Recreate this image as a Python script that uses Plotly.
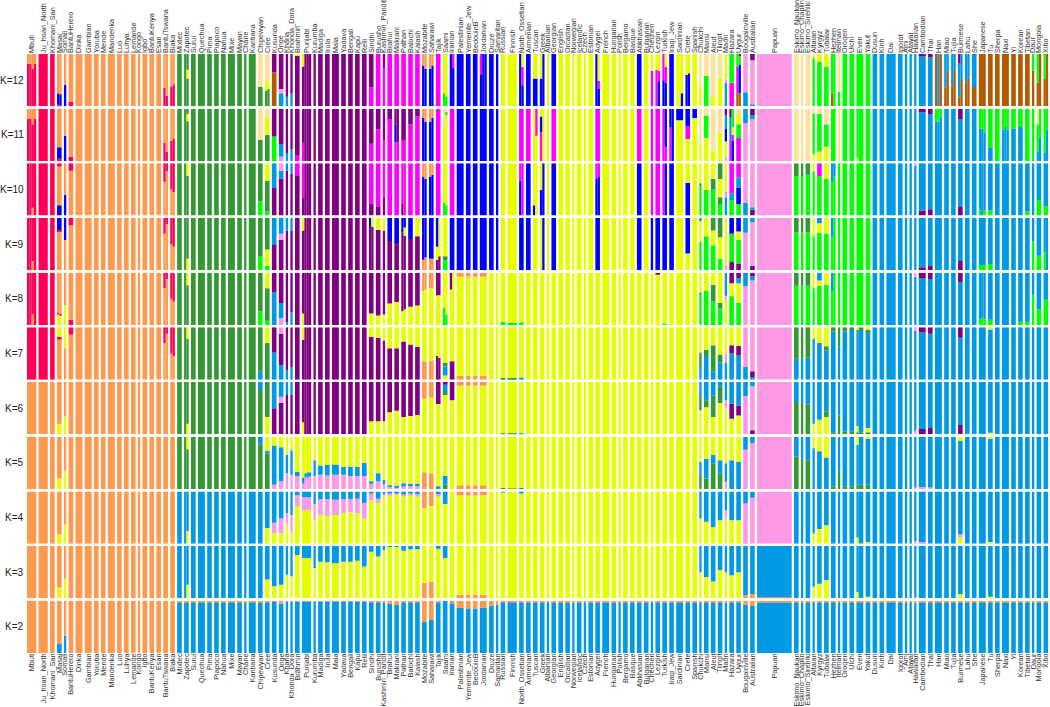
import plotly.graph_objects as go
from plotly.subplots import make_subplots

pops = ["Mbuti", "Ju_hoan_North", "Khomani_San", "Masai", "Somali", "BantuHerero", "Dinka", "Gambian", "Yoruba", "Mende",
        "Mandenka", "Luo", "Luhya", "Lemande", "Kongo", "Igbo", "BantuKenya", "Esan", "BantuTswana", "Biaka",
        "Mixtec", "Zapotec", "Surui", "Quechua", "Pima", "Piapoco", "Nahua", "Mixe", "Mayan", "Chane", "Karitiana",
        "Chipewyan", "Cree", "Kusunda", "Onge", "Kharia", "Khonda_Dora", "Brahmin", "Punjabi", "Kurumba", "Madiga",
        "Irula", "Mala", "Yadava", "Bengali", "Kapu", "Relli", "Sindhi", "Burusho", "Kashmiri_Pandit", "Brahui",
        "Makrani", "Pathan", "Balochi", "Kalash", "Mozabite", "Saharawi", "Tajik", "Saami", "Iranian", "Palestinian",
        "Yemenite_Jew", "BedouinB", "Jordanian", "Druze", "Samaritan", "Russian", "Finnish", "North_Ossetian",
        "Armenian", "Tuscan", "Greek", "Albanian", "Georgian", "English", "Orcadian", "Norwegian", "Icelandic",
        "Czech", "Estonian", "Adygei", "French", "Hungarian", "Polish", "Bergamo", "Basque", "Abkhasian", "Bulgarian",
        "Chechen", "Lezgin", "Turkish", "Iraqi_Jew", "Sardinian", "Crete", "Spanish", "Chukchi", "Mansi", "Aleut",
        "Tlingit", "Maori", "Hazara", "Uygur", "Bougainville", "Australian", "Papuan", "Eskimo_Naukan",
        "Eskimo_Chaplin", "Eskimo_Sireniki", "Altaian", "Kyrgyz", "Tubalar", "Hezhen", "Itelman", "Oroqen", "Ulchi",
        "Even", "Yakut", "Dusun", "Kinh", "Dai", "Igorot", "Ami", "Atayal", "Hawaiian", "Cambodian", "Thai", "Han",
        "Miao", "Tujia", "Burmese", "Lahu", "She", "Japanese", "Tu", "Sherpa", "Naxi", "Yi", "Korean", "Tibetan",
        "Daur", "Mongola", "Xibo"]

# samples per population
samples = [4, 4, 2, 2, 1, 2, 3, 3, 2, 2,
           3, 2, 2, 2, 1, 2, 2, 2, 2, 2,
           2, 2, 2, 3, 2, 2, 2, 3, 2, 1, 3,
           2, 2, 2, 2, 1, 1, 2, 4, 1, 2,
           2, 3, 2, 2, 2, 2, 2, 2, 1, 2,
           2, 2, 2, 2, 2, 2, 2, 2, 2, 3,
           2, 2, 3, 2, 1, 2, 4, 2,
           2, 2, 2, 1, 2, 2, 2, 1, 2,
           1, 2, 2, 3, 2, 1, 2, 2, 2, 2,
           1, 2, 2, 2, 3, 2, 2, 1, 2, 2,
           2, 1, 2, 2, 2, 2, 15, 2,
           1, 2, 1, 2, 2, 2, 1, 2, 2,
           3, 2, 2, 2, 4, 2, 1, 1, 1, 3, 2, 3,
           2, 2, 2, 2, 2, 3, 2, 2, 3, 2, 2, 2,
           1, 2, 2]

# composition strings: cluster letter + percent, bottom to top, "|" splits a population into sample columns
k2_rows = [("Mbuti", "Biaka", "O100"), ("Mixtec", "Xibo", "L98 O2"), ("Masai", "L18 O82"), ("Somali", "L33 O67"),
           ("Kusunda", "Relli", "L99 O1"), ("Onge", "L94 O6"), ("Brahui", "L94 O6"), ("Makrani", "L92 O8"),
           ("Mozabite", "L60 O40"), ("Saharawi", "L63 O37"), ("Tajik", "L97 O3"), ("Saami", "L100"),
           ("Iranian", "L95 O5"), ("Palestinian", "L86 O14"), ("Yemenite_Jew", "L85 O15"), ("BedouinB", "L85 O15"),
           ("Jordanian", "L87 O13"), ("Druze", "L91 O9"), ("Samaritan", "L92 O8"), ("Iraqi_Jew", "L95 O5"),
           ("Armenian", "Spanish", "L97 O3"), ("Maori", "L96 O4"), ("Bougainville", "L93 O7"),
           ("Australian", "L90 O10"), ("Papuan", "L97 O3"), ("Hawaiian", "L96 O4")]

k3_rows = [("Mbuti", "Biaka", "O100"), ("Masai", "Y20 O80"), ("Somali", "Y38 O62"), ("Mixtec", "Xibo", "L100"),
           ("Zapotec", "L100|Y26 L74"), ("Cree", "Y36 L64"), ("Kusunda", "Y23 L77"), ("Onge", "Y26 L74"),
           ("Kharia", "Y45 L55"), ("Khonda_Dora", "Y42 L58"), ("Brahmin", "Y83 L17"), ("Punjabi", "Y77 L23"),
           ("Kurumba", "Y58 L42"), ("Madiga", "Y70 L30"), ("Irula", "Y69 L31"), ("Mala", "Y67 L33"),
           ("Yadava", "Y70 L30"), ("Bengali", "Y70 L30"), ("Kapu", "Y72 L28"), ("Relli", "Y61 L39"),
           ("Sindhi", "Y89 L11"), ("Burusho", "Y80 L20"), ("Kashmiri_Pandit", "Y92 L8"), ("Brahui", "Y99 L1"),
           ("Makrani", "Y99 L1"), ("Pathan", "Y91 L9"), ("Balochi", "Y94 L6"), ("Kalash", "Y94 L6"),
           ("Mozabite", "O30 Y70"), ("Saharawi", "O32 Y68"), ("Tajik", "Y95 L5"), ("Saami", "Y77 L23"),
           ("Iranian", "Y100"), ("Palestinian", "O7 Y93"), ("Yemenite_Jew", "O7 Y93"), ("BedouinB", "O7 Y93"),
           ("Jordanian", "O7 Y93"), ("Druze", "Spanish", "Y100"), ("Chukchi", "Y50 L50"), ("Mansi", "Y41 L59"),
           ("Aleut", "Y32 L68"), ("Tlingit", "Y54 L46"), ("Maori", "Y50 L50"), ("Hazara", "Y44 L56"),
           ("Uygur", "Y50 L50"), ("Bougainville", "O6 L94"), ("Australian", "O8 L92"), ("Papuan", "O2 L98"),
           ("Altaian", "Y22 L78"), ("Kyrgyz", "Y28 L72"), ("Tubalar", "Y35 L65"), ("Even", "Y12 L88|L100|L100"),
           ("Yakut", "Y3 L97"), ("Hawaiian", "O2 L98"), ("Burmese", "Y8 L92"), ("Tu", "Y3 L97")]

k4_rows = [("Mbuti", "Biaka", "O100"), ("Masai", "Y18 O82"), ("Somali", "Y36 O64"), ("Mixtec", "Xibo", "L100"),
           ("Zapotec", "L100|Y24 L76"), ("Cree", "Y30 L70"), ("Kusunda", "Y20 K20 L60"), ("Onge", "Y20 K28 L52"),
           ("Kharia", "Y36 K22 L42"), ("Khonda_Dora", "Y23 K32 L45"), ("Brahmin", "Y72 K21 L7"),
           ("Punjabi", "Y64 K25 L11"), ("Kurumba", "Y45 K31 L24"), ("Madiga", "Y55 K30 L15"), ("Irula", "Y53 K32 L15"),
           ("Mala", "Y55 K29 L16"), ("Yadava", "Y58 K27 L15"), ("Bengali", "Y60 K25 L15"), ("Kapu", "Y58 K28 L14"),
           ("Relli", "Y48 K30 L22"), ("Sindhi", "Y83 K14 L3"), ("Burusho", "Y78 K8 L14"),
           ("Kashmiri_Pandit", "Y90 K5 L5"), ("Brahui", "Y94 K3 L3"), ("Makrani", "Y96 K2 L2"), ("Pathan", "Y92 K2 L6"),
           ("Balochi", "Y93 K3 L4"), ("Kalash", "Y92 K3 L5"), ("Mozabite", "Y68 O32"), ("Saharawi", "Y72 O28"),
           ("Tajik", "Y92 K3 L5"), ("Saami", "Y76 L24"), ("Iranian", "Y100"), ("Palestinian", "Y92 O8"),
           ("Yemenite_Jew", "Y92 O8"), ("BedouinB", "Y92 O8"), ("Jordanian", "Y92 O8"), ("Druze", "Spanish", "Y100"),
           ("Russian", "Y99 L1"), ("North_Ossetian", "Y98 L2"), ("Chukchi", "Y48 L52"), ("Mansi", "Y42 L58"),
           ("Aleut", "Y32 L68"), ("Tlingit", "Y45 L55"), ("Maori", "Y48 K16 L36"), ("Hazara", "Y45 L55"),
           ("Uygur", "Y45 L55"), ("Bougainville", "K77 L23"), ("Australian", "K88 L12"), ("Papuan", "K100"),
           ("Altaian", "Y20 L80"), ("Kyrgyz", "Y28 L72"), ("Tubalar", "Y35 L65"), ("Even", "Y12 L88|L100|L100"),
           ("Yakut", "Y3 L97"), ("Hawaiian", "K5 L95"), ("Cambodian", "K3 L97"), ("Burmese", "Y12 K6 L82"),
           ("Tu", "Y3 L97")]

k5_rows = [("Mbuti", "Biaka", "O100"), ("Masai", "Y20 O80"), ("Somali", "Y35 O65"), ("Mixtec", "Cree", "G100"),
           ("Zapotec", "G100|G76 Y24"), ("Chipewyan", "G85 L15"), ("Cree", "G68 L5 Y27"), ("Kusunda", "K8 L75 Y17"),
           ("Onge", "K15 L65 Y20"), ("Kharia", "K30 L35 Y35"), ("Khonda_Dora", "K27 L47 Y26"), ("Brahmin", "K25 L8 Y67"),
           ("Punjabi", "K10 L12 Y78|K22 L8 Y70|K22 L10 Y68|K24 L8 Y68"), ("Kurumba", "K25 L30 Y45"), ("Madiga", "K27 L18 Y55"),
           ("Irula", "K26 L20 Y54"), ("Mala", "K27 L20 Y53"), ("Yadava", "K27 L15 Y58"), ("Bengali", "K25 L18 Y57"),
           ("Kapu", "K25 L17 Y58"), ("Relli", "K25 L25 Y50"), ("Sindhi", "K10 L5 Y85"), ("Burusho", "K15 L15 Y70"),
           ("Kashmiri_Pandit", "K9 L8 Y83"), ("Brahui", "K5 L2 Y93"), ("Makrani", "K4 L2 Y94"), ("Pathan", "K5 L6 Y89"),
           ("Balochi", "K5 L5 Y90"), ("Kalash", "K5 L5 Y90"), ("Mozabite", "O32 Y68"), ("Saharawi", "O30 Y70"),
           ("Tajik", "K2 L3 Y95"), ("Saami", "G8 L17 Y75"), ("Iranian", "Y100"), ("Palestinian", "O7 Y93"),
           ("Yemenite_Jew", "O7 Y93"), ("BedouinB", "O7 Y93"), ("Jordanian", "O7 Y93"), ("Druze", "Spanish", "Y100"),
           ("Russian", "G2 Y98"), ("Finnish", "G1 Y99"), ("North_Ossetian", "L2 Y98"), ("Chukchi", "G30 L22 Y48"),
           ("Mansi", "G20 L38 Y42"), ("Aleut", "G49 L16 Y35"), ("Tlingit", "G30 L25 Y45"), ("Maori", "K14 L35 Y51"),
           ("Hazara", "L55 Y45"), ("Uygur", "L52 Y48"), ("Bougainville", "K75 L25"), ("Australian", "K88 L12"),
           ("Papuan", "K100"), ("Eskimo_Naukan", "G62 L38"), ("Eskimo_Chaplin", "G58 L42"), ("Eskimo_Sireniki", "G55 L45"),
           ("Altaian", "L78 Y22"), ("Kyrgyz", "L72 Y28"), ("Tubalar", "L60 Y40"), ("Hezhen", "Xibo", "L100"),
           ("Hezhen", "G5 L95"), ("Itelman", "G36 L64"), ("Oroqen", "G5 L95"), ("Ulchi", "G5 L95"),
           ("Even", "G8 L76 Y16|G8 L92|G8 L92"), ("Yakut", "G8 L88 Y4"), ("Hawaiian", "K3 L97"), ("Cambodian", "K4 L96"),
           ("Thai", "K3 L97"), ("Burmese", "L92 Y8"), ("Tu", "L96 Y4")]

k6_rows = [("Mbuti", "Biaka", "O100"), ("Masai", "Y20 O80"), ("Somali", "Y34 O66"), ("Mixtec", "Cree", "G100"),
           ("Zapotec", "G100|Y20 G80"), ("Chipewyan", "G85 L15"), ("Cree", "Y33 G67"), ("Kusunda", "Kalash", "P100"),
           ("Kusunda", "P50 L50"), ("Onge", "P60 K12 L28"), ("Kharia", "P75 L25"), ("Khonda_Dora", "P75 L25"),
           ("Punjabi", "Y23 P77|P100|P100|P100"), ("Sindhi", "Y25 P75"), ("Burusho", "Y25 P75"),
           ("Kashmiri_Pandit", "Y25 P75"), ("Brahui", "Y42 P58"), ("Makrani", "Y45 P55"), ("Pathan", "Y33 P67"),
           ("Balochi", "Y35 P65"), ("Kalash", "Y37 P63"), ("Mozabite", "Y68 O32"), ("Saharawi", "Y70 O30"),
           ("Tajik", "Y58 P42"), ("Saami", "Y75 G8 L12 P5"), ("Iranian", "Y65 P35"), ("Palestinian", "Y93 O7"),
           ("Yemenite_Jew", "Y93 O7"), ("BedouinB", "Y93 O7"), ("Jordanian", "Y93 O7"), ("Druze", "Spanish", "Y100"),
           ("Russian", "G2 Y98"), ("Finnish", "G2 Y98"), ("North_Ossetian", "L2 Y98"), ("Chukchi", "Y46 G29 L25"),
           ("Mansi", "Y52 G13 L35"), ("Aleut", "Y33 G41 L26"), ("Tlingit", "Y60 G32 L8"), ("Maori", "Y49 K16 L35"),
           ("Hazara", "Y30 P29 L41"), ("Uygur", "Y36 P19 L45"), ("Bougainville", "K73 L27"), ("Australian", "P8 K84 L8"),
           ("Papuan", "K100"), ("Eskimo_Naukan", "G62 L38"), ("Eskimo_Chaplin", "G60 L40"), ("Eskimo_Sireniki", "G57 L43"),
           ("Altaian", "Y20 L80"), ("Kyrgyz", "Y28 L72"), ("Tubalar", "Y33 G10 L57"), ("Hezhen", "Xibo", "L100"),
           ("Hezhen", "G4 L96"), ("Itelman", "G36 L64"), ("Oroqen", "G5 L95"), ("Ulchi", "G5 L95"),
           ("Even", "G4 Y12 L84|G4 L96|G4 L96"), ("Yakut", "G4 Y8 L88"), ("Hawaiian", "K7 L93"), ("Cambodian", "P10 L90"),
           ("Thai", "P12 L88"), ("Burmese", "P18 L82"), ("Tu", "Y3 L97")]

k7_rows = [("Mbuti", "Biaka", "O100"), ("Mbuti", "Somali", "R100"), ("Masai", "O77 R5 Y18"), ("Somali", "O60 Y40"),
           ("BantuHerero", "O86 R14"), ("BantuTswana", "O70 R30|O88 R12"), ("Biaka", "O50 R50|O45 R55"),
           ("Mixtec", "Cree", "G100"), ("Zapotec", "G100|G78 Y22"), ("Chipewyan", "L15 G85"), ("Cree", "G70 Y30"),
           ("Kusunda", "Kalash", "P100"), ("Kusunda", "L52 P48"), ("Onge", "L28 P60 K12"), ("Kharia", "L18 P82"),
           ("Khonda_Dora", "L24 P76"), ("Punjabi", "P76 Y24|P100|P100|P100"), ("Sindhi", "P82 Y18"), ("Burusho", "P80 Y20"),
           ("Kashmiri_Pandit", "P75 Y25"), ("Brahui", "P60 Y40"), ("Makrani", "P60 Y40"), ("Pathan", "P73 Y27"),
           ("Balochi", "P67 Y33"), ("Kalash", "P63 Y37"), ("Mozabite", "O35 Y65"), ("Saharawi", "O36 Y64"),
           ("Tajik", "P45 Y55|P42 Y58"), ("Saami", "Y8 L17 G7 Y68"), ("Iranian", "P35 Y65"), ("Palestinian", "O7 Y93"),
           ("Yemenite_Jew", "O7 Y93"), ("BedouinB", "O7 Y93"), ("Jordanian", "O7 Y93"), ("Druze", "Spanish", "Y100"),
           ("Russian", "G3 Y97"), ("Finnish", "G3 Y97"), ("North_Ossetian", "L4 Y96"), ("Chukchi", "L24 G28 Y48"),
           ("Mansi", "L45 G12 Y43"), ("Aleut", "L15 G51 Y34"), ("Tlingit", "L33 G15 Y52"), ("Maori", "L33 K16 Y51"),
           ("Hazara", "L50 P16 Y34"), ("Uygur", "L46 P19 Y35"), ("Bougainville", "L24 K76"), ("Australian", "L5 P11 K84"),
           ("Papuan", "K100"), ("Eskimo_Naukan", "L40 G60"), ("Eskimo_Chaplin", "L40 G60"), ("Eskimo_Sireniki", "L42 G58"),
           ("Altaian", "L78 Y22"), ("Kyrgyz", "L70 Y30"), ("Tubalar", "L56 G8 Y36"), ("Hezhen", "Xibo", "L100"),
           ("Hezhen", "L92 G8"), ("Itelman", "L63 G37"), ("Oroqen", "L92 G8"), ("Ulchi", "L95 G5"),
           ("Even", "L90 G5 Y5|L95 G5|L95 G5"), ("Yakut", "L92 G3 Y5"), ("Hawaiian", "L93 K7"), ("Cambodian", "L90 P10"),
           ("Thai", "L88 P12"), ("Burmese", "L80 P20"), ("Tu", "L96 Y4")]

k8_rows = [("Mbuti", "Somali", "R100"), ("BantuHerero", "Biaka", "O100"), ("Mbuti", "R100|R100|O20 R80|R100"),
           ("Masai", "Y20 R4 O76|Y18 R3 O79"), ("Somali", "Y38 O62"), ("BantuHerero", "R10 O90"),
           ("BantuTswana", "O70 R30|O88 R12"), ("Biaka", "O50 R50|O45 R55"), ("Mixtec", "Cree", "G100"),
           ("Zapotec", "G100|G76 Y24"), ("Chipewyan", "N26 G74"), ("Cree", "N8 G62 Y30"), ("Kusunda", "Kalash", "P100"),
           ("Kusunda", "L62 P38"), ("Onge", "K13 L29 P58"), ("Kharia", "L5 P95"), ("Khonda_Dora", "L25 P75"),
           ("Punjabi", "Y22 P78|P100|P100|P100"), ("Sindhi", "Y22 P78"), ("Burusho", "Y18 P82"),
           ("Kashmiri_Pandit", "Y20 P80"), ("Brahui", "Y41 P59"), ("Makrani", "Y44 P56"), ("Pathan", "Y26 P74|Y30 P70"),
           ("Balochi", "Y35 P65"), ("Kalash", "Y37 P63"), ("Mozabite", "Y65 O35|Y68 O32"), ("Saharawi", "Y70 O30"),
           ("Tajik", "Y57 P43"), ("Saami", "N33 Y67|N20 Y80"), ("Iranian", "Y68 P32|Y100"), ("Palestinian", "Y92 O8"),
           ("Yemenite_Jew", "Y92 O8"), ("BedouinB", "Y92 O8"), ("Jordanian", "Y92 O8"), ("Druze", "Spanish", "Y100"),
           ("Russian", "N6 Y94"), ("Finnish", "N4 Y96"), ("North_Ossetian", "N5 Y95"), ("Lezgin", "Y98 P2"),
           ("Turkish", "N3 Y97"), ("Chukchi", "N58 G4 Y38"), ("Mansi", "N65 Y35"), ("Aleut", "N45 G32 Y23"),
           ("Tlingit", "N32 G10 Y58"), ("Maori", "Y48 K8 L44"), ("Hazara", "N55 Y25 P20"), ("Uygur", "N42 Y38 L10 P10"),
           ("Bougainville", "K74 L26"), ("Australian", "K85 L8 P7"), ("Papuan", "K100"), ("Eskimo_Naukan", "N75 G25"),
           ("Eskimo_Chaplin", "N75 G25"), ("Eskimo_Sireniki", "N75 G25"), ("Altaian", "N70 Y30"),
           ("Kyrgyz", "N75 Y10 L15"), ("Tubalar", "N77 Y23"), ("Hezhen", "N65 L35|N100"), ("Itelman", "Yakut", "N100"),
           ("Dusun", "Xibo", "L100"), ("Hawaiian", "L92 K8"), ("Cambodian", "L90 P10"), ("Thai", "L88 P12"),
           ("Burmese", "L82 P18"), ("Japanese", "N11 L89|N14 L86|N11 L89"), ("Tu", "N10 L90"), ("Korean", "N6 L94"),
           ("Tibetan", "N6 L94"), ("Daur", "N58 L42"), ("Mongola", "N30 L70"), ("Xibo", "N48 L52")]

k9_rows = [("Mbuti", "Somali", "R100"), ("BantuHerero", "Biaka", "O100"), ("Mbuti", "R100|R100|O18 R82|R100"),
           ("Masai", "O75 R2 B23"), ("Somali", "O58 B42"), ("BantuHerero", "O86 R14"), ("BantuTswana", "O70 R30|O88 R12"),
           ("Biaka", "O50 R50|O45 R55"), ("Mixtec", "Cree", "G100"), ("Zapotec", "G100|Y22 G78"), ("Chipewyan", "N27 G73"),
           ("Cree", "N8 Y32 G60"), ("Kusunda", "Kalash", "P100"), ("Kusunda", "P50 L50"), ("Onge", "P58 K12 L30"),
           ("Kharia", "P76 L24"), ("Khonda_Dora", "P75 L25"), ("Punjabi", "P76 Y24|P100|P100|P100"),
           ("Sindhi", "P83 B17|P83 Y17"), ("Burusho", "P77 Y23"), ("Kashmiri_Pandit", "P76 Y24"), ("Brahui", "P56 B44"),
           ("Makrani", "P50 B50"), ("Pathan", "P73 B27|P66 Y16 B18"), ("Balochi", "P60 B40"), ("Kalash", "P65 Y35"),
           ("Mozabite", "O20 B80|O25 B75"), ("Saharawi", "O22 B78"), ("Tajik", "P20 Y25 B55|P27 Y73"),
           ("Saami", "N19 G8 Y73"), ("Iranian", "Samaritan", "B100"), ("Russian", "Spanish", "Y100"),
           ("North_Ossetian", "B100"), ("Armenian", "B100"), ("Greek", "Y100|B100"), ("Georgian", "B100"), ("Adygei", "B100"),
           ("Abkhasian", "B100"), ("Chechen", "B100"), ("Lezgin", "B100"), ("Turkish", "B100"), ("Iraqi_Jew", "B100"),
           ("Crete", "Y32 B68"), ("Chukchi", "N54 Y40 G6"), ("Mansi", "N65 Y35"), ("Aleut", "N48 Y28 G24"),
           ("Tlingit", "N22 Y41 G37"), ("Maori", "K10 Y90"), ("Hazara", "P16 N54 B30"), ("Uygur", "P13 N45 Y16 B26"),
           ("Bougainville", "K72 L28"), ("Australian", "P8 K84 L8"), ("Papuan", "K100"), ("Eskimo_Naukan", "N73 G27"),
           ("Eskimo_Chaplin", "N73 G27"), ("Eskimo_Sireniki", "N73 G27"), ("Altaian", "N65 Y35"),
           ("Kyrgyz", "N72 Y18 L10"), ("Tubalar", "N70 Y30"), ("Hezhen", "N64 L36|N100"), ("Itelman", "Yakut", "N100"),
           ("Dusun", "Xibo", "L100"), ("Cambodian", "P6 L94"), ("Thai", "P8 L92"), ("Burmese", "P18 L82"),
           ("Japanese", "N10 L90"), ("Tu", "N12 L88"), ("Daur", "N55 L45"), ("Mongola", "N28 L72"), ("Xibo", "N35 L65|L100")]

k10_rows = [("Mbuti", "Somali", "R100"), ("BantuHerero", "Biaka", "O100"), ("Mbuti", "R100|R100|O15 R85|R100"),
            ("Masai", "B20 O74 R6"), ("Somali", "B40 O60"), ("BantuHerero", "O86 R14"), ("BantuTswana", "O65 R35|O85 R15"),
            ("Biaka", "O50 R50|O45 R55"), ("Mixtec", "Cree", "G100"), ("Zapotec", "G100|G76 Y24"), ("Chipewyan", "N27 G73"),
            ("Cree", "N8 G58 Y34"), ("Kusunda", "Kalash", "P100"), ("Kusunda", "P53 L47"), ("Onge", "P71 L15 K14"),
            ("Kharia", "P86 L14"), ("Khonda_Dora", "P80 L20"), ("Brahmin", "P76 M24"),
            ("Punjabi", "P35 M65|P100|P100|P100"), ("Sindhi", "P23 M77"), ("Burusho", "P18 M82"),
            ("Kashmiri_Pandit", "P35 M65"), ("Brahui", "M100"), ("Makrani", "M100"), ("Pathan", "P22 M78|M100"),
            ("Balochi", "M100"), ("Kalash", "M100"), ("Mozabite", "B75 O25|B70 O30"), ("Saharawi", "B75 O25|B78 O22"),
            ("Tajik", "M100"), ("Saami", "N25 Y75|N20 Y80"), ("Iranian", "M100"), ("Palestinian", "Samaritan", "B100"),
            ("Russian", "Spanish", "Y100"), ("North_Ossetian", "B67 M33|M100"), ("Armenian", "B100"),
            ("Tuscan", "B20 Y80|Y100"), ("Greek", "B49 Y51|B100"), ("Georgian", "B100"), ("Adygei", "B70 M30|B74 M26"),
            ("Abkhasian", "B100"), ("Chechen", "M100"), ("Lezgin", "M100"), ("Turkish", "M100|B100"), ("Iraqi_Jew", "B100"),
            ("Crete", "B63 Y37"), ("Chukchi", "N57 G5 Y38"), ("Mansi", "N49 Y51"), ("Aleut", "N51 G19 Y30"),
            ("Tlingit", "N22 G13 Y35 G30"), ("Maori", "L35 K10 Y55"), ("Hazara", "N30 L13 M57"), ("Uygur", "N22 B32 L19 M27"),
            ("Bougainville", "L25 K75"), ("Australian", "P11 L5 K84"), ("Papuan", "K100"), ("Eskimo_Naukan", "N76 G24"),
            ("Eskimo_Chaplin", "N76 G24"), ("Eskimo_Sireniki", "N78 G22"), ("Altaian", "N85 Y15"), ("Kyrgyz", "N76 M24"),
            ("Tubalar", "N70 Y30"), ("Hezhen", "N64 L36|N75 L25"), ("Itelman", "Yakut", "N100"), ("Dusun", "Xibo", "L100"),
            ("Hawaiian", "L96 K4"), ("Cambodian", "P10 L90"), ("Thai", "P12 L88"), ("Burmese", "P18 L82"),
            ("Japanese", "N12 L88|L100|N10 L90"), ("Tu", "N10 L90"), ("Tibetan", "N8 L92"), ("Mongola", "N30 L70"),
            ("Xibo", "N18 L82")]

k11_rows = [("Mbuti", "Somali", "R100"), ("BantuHerero", "Biaka", "O100"), ("Mbuti", "R80 O20|R80 O20|R70 O30|R80 O20"),
            ("Masai", "R4 B22 O74"), ("Somali", "B48 O52"), ("BantuHerero", "R8 O92"), ("BantuTswana", "R35 O65|R18 O82"),
            ("Biaka", "R38 O62|R42 O58"), ("Mixtec", "Cree", "G100"), ("Zapotec", "G100|G76 Y14 G10"),
            ("Chipewyan", "G40 T60"), ("Cree", "G50 Y32 T18"), ("Kusunda", "Kalash", "P100"), ("Kusunda", "N47 P53"),
            ("Onge", "K8 L24 P68"), ("Kharia", "L15 P85"), ("Khonda_Dora", "L22 P78"), ("Brahmin", "M10 P90"),
            ("Punjabi", "M35 P65|P100|P100|P100"), ("Sindhi", "M33 P67"), ("Burusho", "M60 P40"),
            ("Kashmiri_Pandit", "M39 P61"), ("Brahui", "M80 P20"), ("Makrani", "M36 B34 P30|M36 P64"), ("Pathan", "M40 P60"),
            ("Balochi", "M70 P30"), ("Kalash", "M85 P15"), ("Mozabite", "B82 O18|B75 O25"), ("Saharawi", "B75 O25|B82 O18"),
            ("Tajik", "M100"), ("Saami", "Y68 T32|Y88 N6 T6"), ("Iranian", "M100"), ("Palestinian", "Samaritan", "B100"),
            ("Russian", "Spanish", "Y100"), ("North_Ossetian", "M100"), ("Armenian", "M100"), ("Tuscan", "Y100|Y48 M52"),
            ("Greek", "M55 B30 Y15|Y100"), ("Georgian", "M100"), ("Adygei", "M100"), ("Abkhasian", "M100"), ("Chechen", "M100"),
            ("Lezgin", "M100"), ("Turkish", "M100|M27 B73"), ("Iraqi_Jew", "M64 B36|B100"), ("Sardinian", "Y78 B22"),
            ("Crete", "Y42 M25 B33"), ("Spanish", "Y82 B18"), ("Chukchi", "Y36 T64"), ("Mansi", "Y44 N43 T13"),
            ("Aleut", "Y20 T80"), ("Tlingit", "Y55 T45"), ("Maori", "K7 Y30 B25 L25 P13"), ("Hazara", "M38 L45 P17|B38 M12 Y15 N35"),
            ("Uygur", "M44 N26 Y20 T10"), ("Bougainville", "K72 L28"), ("Australian", "K80 L8 P12"), ("Papuan", "K100"),
            ("Eskimo_Naukan", "Eskimo_Sireniki", "T100"), ("Altaian", "Y13 N78 T9"), ("Kyrgyz", "Y18 N72 T10"),
            ("Tubalar", "Y27 N43 T30"), ("Hezhen", "N100"), ("Itelman", "T100"), ("Oroqen", "Yakut", "N100"),
            ("Even", "Y5 N95|N100|N100"), ("Dusun", "Xibo", "L100"), ("Cambodian", "L93 P7"), ("Thai", "L90 P10"),
            ("Han", "L75 N25|L75 N25|L85 N15"), ("Burmese", "L80 P20"), ("Japanese", "L62 N38|L62 N38|L55 N45"),
            ("Tu", "L26 N74"), ("Sherpa", "N100"), ("Naxi", "L60 N40|L65 N35|L60 N40"), ("Yi", "L62 N38"), ("Korean", "L65 N35"),
            ("Tibetan", "N100"), ("Daur", "N100"), ("Mongola", "L18 N52 T30|L45 N55"), ("Xibo", "L15 N85|L60 N40")]

k12_rows = [("Mbuti", "Somali", "R100"), ("BantuHerero", "Biaka", "O100"), ("Mbuti", "R82 O18|R82 O18|R72 O28|R82 O18"),
            ("Masai", "R3 B22 O75|R2 B21 O77"), ("Somali", "B41 O59"), ("BantuHerero", "R8 O92"),
            ("BantuTswana", "R35 O65|R20 O80"), ("Biaka", "R38 O62|R42 O58"), ("Mixtec", "Cree", "G100"),
            ("Zapotec", "G100|G53 Y17 G30"), ("Chipewyan", "G37 T63"), ("Cree", "G30 Y20 T50|G33 Y15 T52"),
            ("Kusunda", "Kalash", "P100"), ("Kusunda", "W65 P35"), ("Onge", "L25 K8 P67"), ("Kharia", "L18 P82"),
            ("Khonda_Dora", "L24 P76"), ("Brahmin", "P97 Y3"), ("Punjabi", "P76 Y24|P100|P100|P100"), ("Sindhi", "M36 P64"),
            ("Burusho", "M100"), ("Kashmiri_Pandit", "M73 P27"), ("Brahui", "Kalash", "M100"), ("Mozabite", "B78 O22|B72 O28"),
            ("Saharawi", "B72 O28|B78 O22"), ("Tajik", "M100"), ("Saami", "N25 Y75|N18 Y82"), ("Iranian", "B100|B74 M26"),
            ("Palestinian", "Samaritan", "B100"), ("Jordanian", "B60 M40|B100|B100"), ("Russian", "Spanish", "Y100"),
            ("North_Ossetian", "B100|B40 M35 Y25"), ("Armenian", "B100"), ("Tuscan", "B53 Y47"), ("Greek", "B53 Y47|B100"),
            ("Georgian", "B100"), ("Adygei", "B100|B33 M16 Y51"), ("Abkhasian", "B100"), ("Chechen", "M68 Y32"),
            ("Lezgin", "M70 Y30|B48 M20 Y32"), ("Turkish", "B50 M50|B45 M30 Y25"), ("Iraqi_Jew", "B100"),
            ("Sardinian", "Y100|Y100|B25 Y75"), ("Crete", "B60 Y40|B63 Y37"), ("Chukchi", "Y38 T62"), ("Mansi", "N58 T42"),
            ("Aleut", "Y19 T81"), ("Tlingit", "Y55 T45"), ("Maori", "L45 K7 Y48"), ("Hazara", "M45 N55"),
            ("Uygur", "W25 M50 N25|W25 B55 N17 P3"), ("Bougainville", "L27 K73"), ("Australian", "L4 K84 P12"),
            ("Papuan", "K100"), ("Eskimo_Naukan", "Eskimo_Sireniki", "T100"), ("Altaian", "N92 Y5 T3"), ("Kyrgyz", "N85 Y15"),
            ("Tubalar", "N75 Y25"), ("Hezhen", "W25 N75|N100"), ("Itelman", "N28 T72"), ("Oroqen", "Yakut", "N100"),
            ("Dusun", "Cambodian", "L100"), ("Cambodian", "L98 P2"), ("Thai", "L94 P6"), ("Han", "W100|L100|W100"),
            ("Miao", "W36 L64|W68 L32"), ("Tujia", "W40 L60|W70 L30"), ("Burmese", "W17 L65 P18|W52 L48"),
            ("Lahu", "W46 L54|W55 L45"), ("She", "W37 L63"), ("Japanese", "Tibetan", "W100"), ("Daur", "W68 N32"),
            ("Mongola", "W45 N55|W100"), ("Xibo", "W52 N48|W100")]

panel_labels = ["K=12", "K=11", "K=10", "K=9", "K=8", "K=7", "K=6", "K=5", "K=4", "K=3", "K=2"]
panel_rows = [k12_rows, k11_rows, k10_rows, k9_rows, k8_rows, k7_rows, k6_rows, k5_rows, k4_rows, k3_rows, k2_rows]

cluster_colors = {"O": "#FF994D", "R": "#FF0055", "G": "#339933", "L": "#0099E6", "B": "#0000FF", "P": "#800080",
                  "M": "#FF00FF", "Y": "#E6FF00", "K": "#FF99E6", "T": "#FFE199", "N": "#00FF00", "W": "#B35900"}

# bar edges in sample units, one blank unit between populations
starts = []
pos = 0
for n in samples:
    starts.append(pos)
    pos += n + 1
total = pos - 1
centers = [s + n / 2 for s, n in zip(starts, samples)]
index = {name: i for i, name in enumerate(pops)}


def expand(rows):
    comps = [""] * len(pops)
    for row in rows:
        first, last = row[0], row[-2]
        for i in range(index[first], index[last] + 1):
            comps[i] = row[-1]
    return comps


fig = make_subplots(rows=11, cols=1, vertical_spacing=2.4 / 599.5)

for r, (label, rows) in enumerate(zip(panel_labels, panel_rows), start=1):
    comps = expand(rows)
    layers = {}
    for i, comp in enumerate(comps):
        parts = comp.split("|")
        w = samples[i] / len(parts)
        for j, part in enumerate(parts):
            segs = [(s[0], float(s[1:])) for s in part.split()]
            scale = 100 / sum(v for _, v in segs)
            base = 0
            for layer, (c, v) in enumerate(segs):
                d = layers.setdefault(layer, {"x": [], "y": [], "base": [], "width": [], "color": []})
                d["x"].append(starts[i] + w * (j + 0.5))
                d["y"].append(v * scale)
                d["base"].append(base)
                d["width"].append(w)
                d["color"].append(cluster_colors[c])
                base += v * scale
    for d in layers.values():
        fig.add_trace(go.Bar(x=d["x"], y=d["y"], base=d["base"], width=d["width"],
                             marker=dict(color=d["color"], line_width=0),
                             showlegend=False, hoverinfo="skip"), row=r, col=1)
    fig.add_annotation(text=label, x=0, y=0.5, xref="x domain", yref="y domain", row=r, col=1,
                       xanchor="right", yanchor="middle", xshift=-1.5, showarrow=False,
                       font=dict(family="Liberation Sans", size=10, color="#222222"))

fig.update_xaxes(range=[0, total + 0.8], showgrid=False, zeroline=False, showline=False, showticklabels=False,
                 ticks="", fixedrange=True, automargin=False)
fig.update_yaxes(range=[0, 100], showgrid=False, zeroline=False, showline=False, showticklabels=False,
                 ticks="", fixedrange=True, automargin=False)

tick_font = dict(family="Liberation Sans", size=7.3, color="#333333")
for r, side in [(1, "top"), (11, "bottom")]:
    fig.update_xaxes(side=side, showticklabels=True, tickmode="array", tickvals=centers, ticktext=pops,
                     tickangle=-90, tickfont=tick_font, ticklabeloverflow="allow", row=r, col=1)
fig.update_xaxes(ticklabelstandoff=-2, row=11, col=1)

fig.update_layout(width=1050, height=707, barmode="overlay", margin=dict(l=27, r=0, t=53.5, b=54, pad=0),
                  paper_bgcolor="white", plot_bgcolor="white", showlegend=False)

fig.write_html("out.html", config={"displayModeBar": False},
               post_script="document.body.style.margin='0';document.body.style.overflow='hidden';")
